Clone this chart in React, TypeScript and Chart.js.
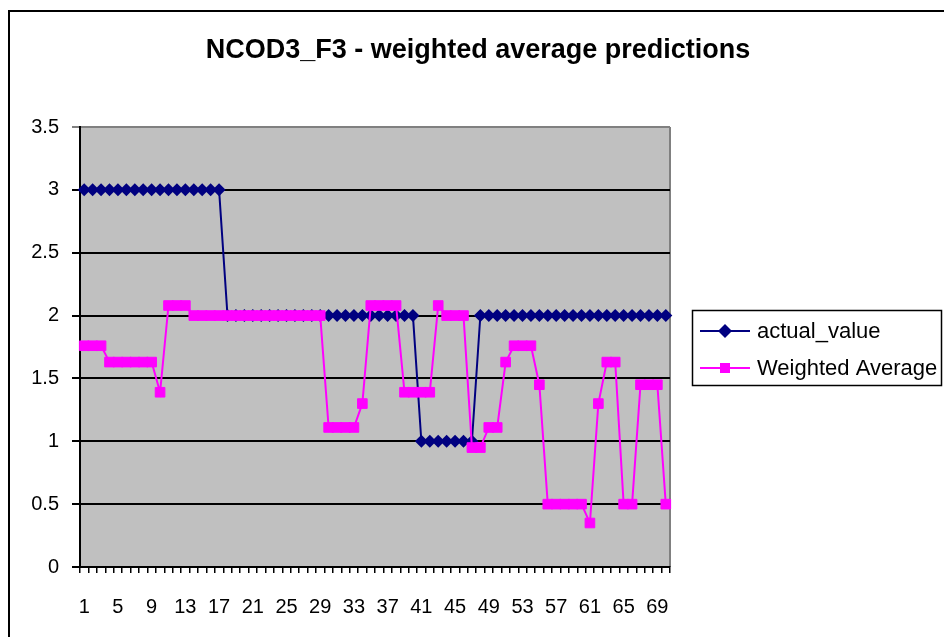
import React, { useEffect, useRef } from "react";
import { Chart, registerables } from "chart.js";

Chart.register(...registerables);

const TITLE = "NCOD3_F3 - weighted average predictions";

const categories = [
  "1", "2", "3", "4", "5", "6", "7", "8", "9", "10",
  "11", "12", "13", "14", "15", "16", "17", "18", "19", "20",
  "21", "22", "23", "24", "25", "26", "27", "28", "29", "30",
  "31", "32", "33", "34", "35", "36", "37", "38", "39", "40",
  "41", "42", "43", "44", "45", "46", "47", "48", "49", "50",
  "51", "52", "53", "54", "55", "56", "57", "58", "59", "60",
  "61", "62", "63", "64", "65", "66", "67", "68", "69", "70",
];

const actualValue = [
  3, 3, 3, 3, 3, 3, 3, 3, 3, 3,
  3, 3, 3, 3, 3, 3, 3, 2, 2, 2,
  2, 2, 2, 2, 2, 2, 2, 2, 2, 2,
  2, 2, 2, 2, 2, 2, 2, 2, 2, 2,
  1, 1, 1, 1, 1, 1, 1, 2, 2, 2,
  2, 2, 2, 2, 2, 2, 2, 2, 2, 2,
  2, 2, 2, 2, 2, 2, 2, 2, 2, 2,
];

const weightedAverage = [
  1.76, 1.76, 1.76, 1.63, 1.63, 1.63, 1.63, 1.63, 1.63, 1.39,
  2.08, 2.08, 2.08, 2, 2, 2, 2, 2, 2, 2,
  2, 2, 2, 2, 2, 2, 2, 2, 2, 1.11,
  1.11, 1.11, 1.11, 1.3, 2.08, 2.08, 2.08, 2.08, 1.39, 1.39,
  1.39, 1.39, 2.08, 2, 2, 2, 0.95, 0.95, 1.11, 1.11,
  1.63, 1.76, 1.76, 1.76, 1.45, 0.5, 0.5, 0.5, 0.5, 0.5,
  0.35, 1.3, 1.63, 1.63, 0.5, 0.5, 1.45, 1.45, 1.45, 0.5,
];

const seriesNames = ["actual_value", "Weighted Average"];
const seriesColors = ["#000080", "#FF00FF"];

const FONT = "'Liberation Sans', Arial, sans-serif";

const decorPlugin = {
  id: "decor",
  beforeDraw(chart: any) {
    const { ctx, chartArea } = chart;
    ctx.save();
    ctx.fillStyle = "#ffffff";
    ctx.fillRect(0, 0, chart.width, chart.height);
    // outer chart border
    ctx.strokeStyle = "#000000";
    ctx.lineWidth = 2;
    ctx.beginPath();
    ctx.moveTo(9, chart.height + 5);
    ctx.lineTo(9, 11);
    ctx.lineTo(chart.width + 5, 11);
    ctx.stroke();
    // plot area background
    ctx.fillStyle = "#C0C0C0";
    ctx.fillRect(chartArea.left, chartArea.top, chartArea.right - chartArea.left, chartArea.bottom - chartArea.top);
    // gray right border
    ctx.strokeStyle = "#808080";
    ctx.lineWidth = 2;
    ctx.beginPath();
    ctx.moveTo(chartArea.right, chartArea.top);
    ctx.lineTo(chartArea.right, chartArea.bottom);
    ctx.stroke();
    // title
    ctx.fillStyle = "#000000";
    ctx.font = `bold 27px ${FONT}`;
    ctx.textAlign = "center";
    ctx.textBaseline = "alphabetic";
    ctx.fillText(TITLE, 478, 58);
    ctx.restore();
  },
  afterDraw(chart: any) {
    const { ctx } = chart;
    ctx.save();
    // legend box
    ctx.strokeStyle = "#000000";
    ctx.lineWidth = 1.5;
    ctx.strokeRect(692.5, 310.5, 249, 75);
    const rows = [331, 368];
    ctx.font = `22px ${FONT}`;
    ctx.textBaseline = "middle";
    ctx.textAlign = "left";
    rows.forEach((y, i) => {
      ctx.strokeStyle = seriesColors[i];
      ctx.lineWidth = 2;
      ctx.beginPath();
      ctx.moveTo(700, y);
      ctx.lineTo(750, y);
      ctx.stroke();
      ctx.fillStyle = seriesColors[i];
      if (i === 0) {
        ctx.beginPath();
        ctx.moveTo(725, y - 7);
        ctx.lineTo(732, y);
        ctx.lineTo(725, y + 7);
        ctx.lineTo(718, y);
        ctx.closePath();
        ctx.fill();
      } else {
        ctx.fillRect(720, y - 5, 10, 10);
      }
      ctx.fillStyle = "#000000";
      ctx.fillText(seriesNames[i], 757, y + 1);
    });
    ctx.restore();
  },
};

export default function App() {
  const ref = useRef<HTMLCanvasElement | null>(null);

  useEffect(() => {
    document.body.style.margin = "0";
    const canvas = ref.current;
    if (!canvas) return;
    const chart = new Chart(canvas, {
      type: "line",
      data: {
        labels: categories,
        datasets: [
          {
            label: seriesNames[0],
            data: actualValue,
            borderColor: seriesColors[0],
            backgroundColor: seriesColors[0],
            borderWidth: 2,
            pointStyle: "rectRot",
            pointRadius: 6.5,
            pointBorderWidth: 0,
            pointBackgroundColor: seriesColors[0],
            tension: 0,
            order: 1,
          },
          {
            label: seriesNames[1],
            data: weightedAverage,
            borderColor: seriesColors[1],
            backgroundColor: seriesColors[1],
            borderWidth: 2,
            pointStyle: "rect",
            pointRadius: 6.8,
            pointBorderWidth: 1,
            pointBackgroundColor: seriesColors[1],
            pointBorderColor: seriesColors[1],
            tension: 0,
            order: 0,
          },
        ],
      },
      options: {
        animation: false,
        responsive: false,
        maintainAspectRatio: false,
        layout: { padding: { left: 0, top: 127, right: 274, bottom: 0 } },
        plugins: {
          legend: { display: false },
          title: { display: false },
          tooltip: { enabled: false },
        },
        scales: {
          x: {
            type: "category",
            offset: true,
            grid: {
              offset: true,
              drawOnChartArea: false,
              drawTicks: true,
              tickLength: 6,
              color: "#000000",
              lineWidth: 1.5,
            },
            border: { color: "#000000", width: 2 },
            ticks: {
              autoSkip: false,
              maxRotation: 0,
              minRotation: 0,
              padding: 22,
              color: "#000000",
              font: { family: FONT, size: 20 },
              callback: (_v: any, i: number) => (i % 4 === 0 ? categories[i] : ""),
            },
            afterFit: (scale: any) => {
              scale.height = 70;
            },
          },
          y: {
            min: 0,
            max: 3.5,
            grid: {
              color: (c: any) => (c.tick && c.tick.value === 3.5 ? "#808080" : "#000000"),
              lineWidth: 2,
              tickLength: 8,
              drawTicks: true,
            },
            border: { color: "#000000", width: 2 },
            ticks: {
              stepSize: 0.5,
              padding: 13,
              color: "#000000",
              font: { family: FONT, size: 20 },
              callback: (v: any) => String(v),
            },
            afterFit: (scale: any) => {
              scale.width = 80;
            },
          },
        },
      },
      plugins: [decorPlugin],
    });
    return () => chart.destroy();
  }, []);

  return <canvas ref={ref} width={944} height={637} style={{ display: "block" }} />;
}
